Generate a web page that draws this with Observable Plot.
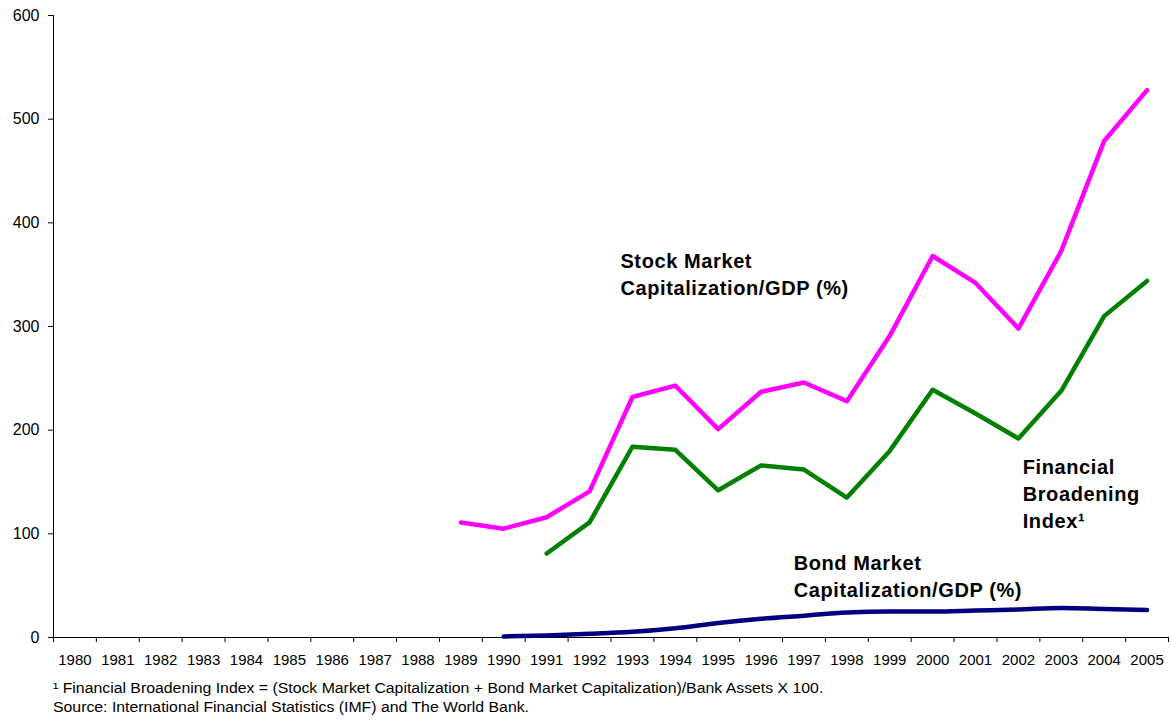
<!DOCTYPE html>
<html><head><meta charset="utf-8">
<script src="https://cdn.jsdelivr.net/npm/d3@7"></script>
<script src="https://cdn.jsdelivr.net/npm/@observablehq/plot@0.6"></script>
<style>
body{margin:0;background:#fff;font-family:"Liberation Sans",Arial,sans-serif;}
#notes{position:absolute;left:53px;top:679px;font-size:14px;line-height:19px;color:#000;transform:scaleX(1.13);transform-origin:0 0;white-space:nowrap;}
svg g[aria-label="text"] text{letter-spacing:0.6px;}
</style></head>
<body><div id="chart"></div>
<div id="notes"><div>¹ Financial Broadening Index = (Stock Market Capitalization + Bond Market Capitalization)/Bank Assets X 100.</div><div>Source: International Financial Statistics (IMF) and The World Bank.</div></div>
<script>
const years = d3.range(1980, 2006);
const stockYears = d3.range(1989, 2006);
const stockValues = [111,105,116,141,232,243,201,237,246,228,291,368,342,298,373,479,528];
const fbiYears = d3.range(1991, 2006);
const fbiValues = [81,111,184,181,142,166,162,135,180,239,216,192,238,310,344];
const bondYears = d3.range(1990, 2006);
const bondValues = [1,2,3.5,5.5,9,14,18,21,24,25,25,26,27,28.5,27.5,26.5];
const yTicks = [0,100,200,300,400,500,600];
const labels = [
  {year:1992.72, value:375, text:"Stock Market\nCapitalization/GDP (%)"},
  {year:2002.1, value:176.5, text:"Financial\nBroadening\nIndex¹"},
  {year:1996.76, value:84, text:"Bond Market\nCapitalization/GDP (%)"}
];
const toRows = (ys, vs) => ys.map((y,i)=>({year:y, value:vs[i]}));
const stock = toRows(stockYears, stockValues);
const fbi = toRows(fbiYears, fbiValues);
const bond = toRows(bondYears, bondValues);
const xDomain = [years[0]-0.5, years[years.length-1]+0.5];
const boundaries = d3.range(years.length+1).map(i => xDomain[0]+i);

const chart = Plot.plot({
  width:1171, height:675,
  marginLeft:53, marginRight:3, marginTop:15, marginBottom:38,
  style:{fontFamily:"'Liberation Sans', Arial, sans-serif", background:"#fff", color:"#000"},
  x:{type:"linear", domain:xDomain},
  y:{domain:[0,600]},
  marks:[
    Plot.ruleX([xDomain[0]], {stroke:"#000", strokeWidth:1}),
    Plot.ruleY([0], {stroke:"#000", strokeWidth:1}),
    Plot.axisY({ticks:yTicks, tickSize:5, tickPadding:9, fontSize:16, label:null, stroke:"#000"}),
    Plot.axisX({ticks:boundaries, tickSize:5, tickFormat:()=>"", label:null, stroke:"#000"}),
    Plot.axisX({ticks:years, tickSize:0, tickPadding:17, tickFormat:d=>String(d), fontSize:15, label:null}),
    Plot.line(stock, {x:"year", y:"value", stroke:"#FF00FF", strokeWidth:4.5}),
    Plot.line(fbi, {x:"year", y:"value", stroke:"#008000", strokeWidth:4.5}),
    Plot.line(bond, {x:"year", y:"value", stroke:"#000080", strokeWidth:4.5, curve:"monotone-x"}),
    Plot.text(labels, {x:"year", y:"value", text:"text", textAnchor:"start", lineAnchor:"top",
      fontSize:20, fontWeight:"bold", lineHeight:1.35, fill:"#000"})
  ]
});
document.getElementById("chart").appendChild(chart);
</script></body></html>
